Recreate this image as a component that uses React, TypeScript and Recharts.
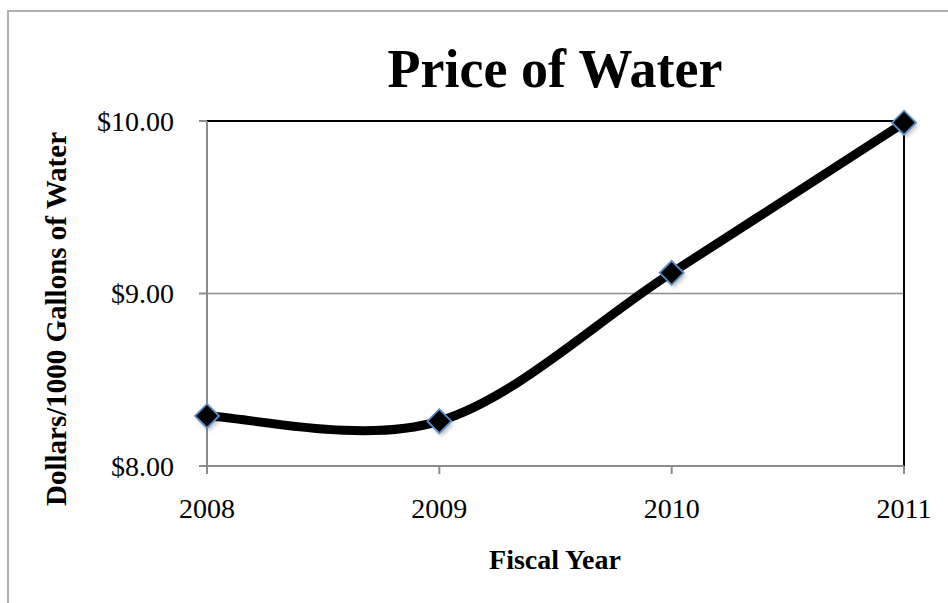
import React from 'react';
import { LineChart, Line, XAxis, YAxis, CartesianGrid, ReferenceLine } from 'recharts';

const years = ['2008', '2009', '2010', '2011'];
const prices = [8.29, 8.26, 9.12, 9.99];
const yTicks = [8, 9, 10];

const data = years.map((y, i) => ({ year: y, price: prices[i] }));

// Excel-style smoothed line (Catmull-Rom like Bezier with 1/6 control offsets)
const excelCurve = (context: any) => {
  let pts: number[][] = [];
  return {
    areaStart() {},
    areaEnd() {},
    lineStart() { pts = []; },
    point(x: number, y: number) { pts.push([+x, +y]); },
    lineEnd() {
      if (!pts.length) return;
      context.moveTo(pts[0][0], pts[0][1]);
      for (let i = 0; i < pts.length - 1; i++) {
        const p0 = pts[i - 1] || pts[i];
        const p1 = pts[i];
        const p2 = pts[i + 1];
        const p3 = pts[i + 2] || pts[i + 1];
        const c1x = p1[0] + (p2[0] - p0[0]) / 6;
        const c1y = p1[1] + (p2[1] - p0[1]) / 6;
        const c2x = p2[0] - (p3[0] - p1[0]) / 6;
        const c2y = p2[1] - (p3[1] - p1[1]) / 6;
        context.bezierCurveTo(c1x, c1y, c2x, c2y, p2[0], p2[1]);
      }
    },
  };
};

const Diamond = (props: any) => {
  const { cx, cy, index } = props;
  if (cx == null || cy == null) return null;
  const r = 12;
  const pts = (dx: number, dy: number) =>
    `${cx + dx},${cy - r + dy} ${cx + r + dx},${cy + dy} ${cx + dx},${cy + r + dy} ${cx - r + dx},${cy + dy}`;
  return (
    <g key={`d-${index}`}>
      <polygon points={pts(2, 3)} fill="#000" opacity={0.25} filter="url(#dshadow)" />
      <polygon points={pts(0, 0)} fill="#000" stroke="#5b8fcc" strokeWidth={1.8} />
    </g>
  );
};

const FONT = '"Liberation Serif", "Times New Roman", serif';
const GRAY = '#8c8c8c';

export default function App() {
  return (
    <div style={{ position: 'absolute', left: 0, top: 0, width: 948, height: 603, overflow: 'hidden', background: '#fff' }}>
      <div style={{ position: 'absolute', left: 7, top: 10, width: 960, height: 620, borderTop: '2px solid #b0b0b0', borderLeft: '2px solid #b0b0b0' }} />
      <div style={{ position: 'absolute', left: 0, top: 0 }}>
        <LineChart width={948} height={603} data={data} margin={{ top: 121, right: 44, bottom: 0, left: 0 }}>
          <defs>
            <filter id="dshadow" x="-50%" y="-50%" width="200%" height="200%">
              <feGaussianBlur stdDeviation="2" />
            </filter>
          </defs>
          <CartesianGrid horizontal vertical={false} stroke={GRAY} strokeWidth={1.5} />
          <XAxis
            dataKey="year"
            height={137}
            tickSize={8}
            tickMargin={24}
            stroke={GRAY}
            axisLine={{ stroke: GRAY, strokeWidth: 2 }}
            tickLine={{ stroke: GRAY, strokeWidth: 2 }}
            tick={{ fill: '#000', fontSize: 28, fontFamily: FONT }}
          />
          <YAxis
            domain={[8, 10]}
            ticks={yTicks}
            width={207}
            tickSize={8}
            tickMargin={25}
            tickFormatter={(v: number) => `$${v.toFixed(2)}`}
            axisLine={{ stroke: GRAY, strokeWidth: 2 }}
            tickLine={{ stroke: GRAY, strokeWidth: 2 }}
            tick={{ fill: '#000', fontSize: 28, fontFamily: FONT }}
          />
          <ReferenceLine y={10} stroke="#000" strokeWidth={2} />
          <ReferenceLine x="2011" stroke="#000" strokeWidth={2} />
          <Line
            type={excelCurve as any}
            dataKey="price"
            stroke="#000"
            strokeWidth={9}
            dot={<Diamond />}
            activeDot={false}
            isAnimationActive={false}
          />
        </LineChart>
      </div>
      <svg width={948} height={603} style={{ position: 'absolute', left: 0, top: 0, pointerEvents: 'none' }}>
        <text x={555} y={87} textAnchor="middle" fontFamily={FONT} fontWeight="bold" fontSize={54} fill="#000">
          Price of Water
        </text>
        <text x={555} y={569} textAnchor="middle" fontFamily={FONT} fontWeight="bold" fontSize={28} fill="#000">
          Fiscal Year
        </text>
        <text
          x={0}
          y={0}
          transform="translate(66,319) rotate(-90)"
          textAnchor="middle"
          fontFamily={FONT}
          fontWeight="bold"
          fontSize={29}
          fill="#000"
        >
          Dollars/1000 Gallons of Water
        </text>
      </svg>
    </div>
  );
}
